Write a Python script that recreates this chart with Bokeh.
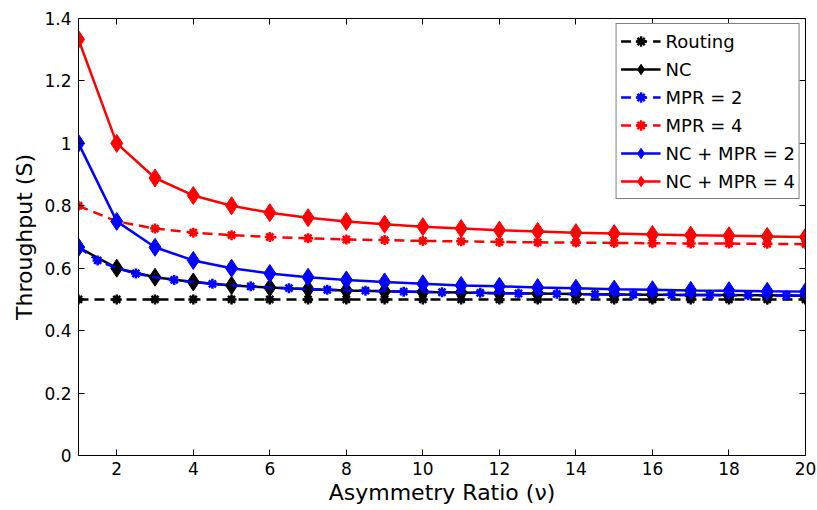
from bokeh.plotting import figure
from bokeh.models import Range1d, FixedTicker, LinearAxis, NumeralTickFormatter, Legend
from bokeh.embed import file_html
from bokeh.resources import INLINE

# ---- data ----
nu = [1, 2, 3, 4, 5, 6, 7, 8, 9, 10, 11, 12, 13, 14, 15, 16, 17, 18, 19, 20]
routing = [0.5, 0.5, 0.5, 0.5, 0.5, 0.5, 0.5, 0.5, 0.5, 0.5,
           0.5, 0.5, 0.5, 0.5, 0.5, 0.5, 0.5, 0.5, 0.5, 0.5]
nc = [0.667, 0.600, 0.571, 0.556, 0.545, 0.538, 0.533, 0.529, 0.526, 0.524,
      0.522, 0.520, 0.519, 0.517, 0.516, 0.515, 0.514, 0.514, 0.513, 0.512]
nu_half = [1.0, 1.5, 2.0, 2.5, 3.0, 3.5, 4.0, 4.5, 5.0, 5.5, 6.0, 6.5, 7.0, 7.5,
           8.0, 8.5, 9.0, 9.5, 10.0, 10.5, 11.0, 11.5, 12.0, 12.5, 13.0, 13.5,
           14.0, 14.5, 15.0, 15.5, 16.0, 16.5, 17.0, 17.5, 18.0, 18.5, 19.0,
           19.5, 20.0]
mpr2 = [0.667, 0.625, 0.600, 0.583, 0.571, 0.5625, 0.556, 0.550, 0.545, 0.542,
        0.538, 0.536, 0.533, 0.531, 0.529, 0.528, 0.526, 0.525, 0.524, 0.523,
        0.522, 0.521, 0.520, 0.519, 0.5185, 0.518, 0.517, 0.5167, 0.516, 0.5156,
        0.515, 0.5147, 0.514, 0.5139, 0.5135, 0.5132, 0.5128, 0.5125, 0.512]
mpr4 = [0.800, 0.750, 0.727, 0.714, 0.706, 0.700, 0.696, 0.692, 0.690, 0.6875,
        0.686, 0.684, 0.683, 0.682, 0.681, 0.680, 0.679, 0.679, 0.678, 0.677]
nc_mpr2 = [1.000, 0.750, 0.667, 0.625, 0.600, 0.583, 0.571, 0.5625, 0.556, 0.550,
           0.545, 0.542, 0.538, 0.536, 0.533, 0.531, 0.529, 0.528, 0.526, 0.525]
nc_mpr4 = [1.333, 1.000, 0.889, 0.833, 0.800, 0.778, 0.762, 0.750, 0.741, 0.733,
           0.727, 0.722, 0.718, 0.714, 0.711, 0.708, 0.706, 0.704, 0.702, 0.700]

x_ticks = [2, 4, 6, 8, 10, 12, 14, 16, 18, 20]
y_ticks = [0, 0.2, 0.4, 0.6, 0.8, 1.0, 1.2, 1.4]

FONT = "DejaVu Sans"

p = figure(width=817, height=510, output_backend="svg", toolbar_location=None,
           x_range=Range1d(1, 20), y_range=Range1d(0, 1.4),
           min_border_left=78, min_border_right=12, min_border_top=18,
           min_border_bottom=55)
p.grid.visible = False
p.outline_line_color = "black"
p.outline_line_width = 1
p.background_fill_color = "white"
p.border_fill_color = "white"

def style_axis(ax, ticks, show_labels=True):
    ax.ticker = FixedTicker(ticks=ticks)
    ax.axis_line_color = "black"
    ax.axis_line_width = 1
    ax.major_tick_in = 6
    ax.major_tick_out = 0
    ax.major_tick_line_color = "black"
    ax.minor_tick_line_color = None
    ax.major_label_text_font = FONT
    if show_labels:
        ax.major_label_text_font_size = "17px"
        ax.major_label_text_color = "black"
    else:
        ax.major_label_text_font_size = "1px"
        ax.major_label_text_color = None
        ax.major_label_standoff = 0

style_axis(p.xaxis[0], x_ticks)
style_axis(p.yaxis[0], y_ticks)
p.yaxis[0].formatter = NumeralTickFormatter(format="0.[0]")
p.xaxis[0].major_label_standoff = 6
p.yaxis[0].major_label_standoff = 7

p.xaxis[0].axis_label = "Asymmetry Ratio (\u03bd)"
p.yaxis[0].axis_label = "Throughput (S)"
for ax in (p.xaxis[0], p.yaxis[0]):
    ax.axis_label_text_font = FONT
    ax.axis_label_text_font_size = "22px"
    ax.axis_label_text_font_style = "normal"
    ax.axis_label_text_color = "black"
p.xaxis[0].axis_label_standoff = 2
p.yaxis[0].axis_label_standoff = 4

top_ax = LinearAxis()
style_axis(top_ax, x_ticks, show_labels=False)
p.add_layout(top_ax, "above")
right_ax = LinearAxis()
style_axis(right_ax, y_ticks, show_labels=False)
p.add_layout(right_ax, "right")

DASH = "10 6"
LW = 2.5
items = []

# Routing
r1 = p.line(nu, routing, line_color="black", line_width=LW, line_dash=DASH)
r1m = p.scatter(nu, routing, marker="asterisk", size=10, line_color="black", line_width=2.5)
items.append(("Routing", [r1, r1m]))

# NC
r2 = p.line(nu, nc, line_color="black", line_width=LW)
r2m = p.scatter(nu, nc, marker="diamond", size=18, fill_color="black", line_color="black")
items.append(("NC", [r2, r2m]))

# MPR = 2 (evaluated on half steps)
r3 = p.line(nu_half, mpr2, line_color="blue", line_width=LW, line_dash=DASH)
r3m = p.scatter(nu_half[1::2], mpr2[1::2], marker="asterisk", size=10, line_color="blue", line_width=2.5)
p.scatter(nu_half[:1], mpr2[:1], marker="diamond", size=18, fill_color="blue", line_color="blue")
items.append(("MPR = 2", [r3, r3m]))

# MPR = 4
r4 = p.line(nu, mpr4, line_color="red", line_width=LW, line_dash=DASH)
r4m = p.scatter(nu, mpr4, marker="asterisk", size=10, line_color="red", line_width=2.5)
items.append(("MPR = 4", [r4, r4m]))

# NC + MPR = 2
r5 = p.line(nu, nc_mpr2, line_color="blue", line_width=LW)
r5m = p.scatter(nu, nc_mpr2, marker="diamond", size=18, fill_color="blue", line_color="blue")
items.append(("NC + MPR = 2", [r5, r5m]))

# NC + MPR = 4
r6 = p.line(nu, nc_mpr4, line_color="red", line_width=LW)
r6m = p.scatter(nu, nc_mpr4, marker="diamond", size=18, fill_color="red", line_color="red")
items.append(("NC + MPR = 4", [r6, r6m]))

legend = Legend(items=items, location="top_right")
legend.margin = 5
legend.padding = 4
legend.spacing = 2
legend.glyph_width = 40
legend.glyph_height = 26
legend.label_height = 26
legend.label_standoff = 5
legend.label_text_font = FONT
legend.label_text_font_size = "18px"
legend.label_text_color = "black"
legend.border_line_color = "black"
legend.border_line_width = 1
legend.background_fill_color = "white"
legend.background_fill_alpha = 1
p.add_layout(legend, "center")

open("out.html", "w").write(file_html(p, INLINE))
